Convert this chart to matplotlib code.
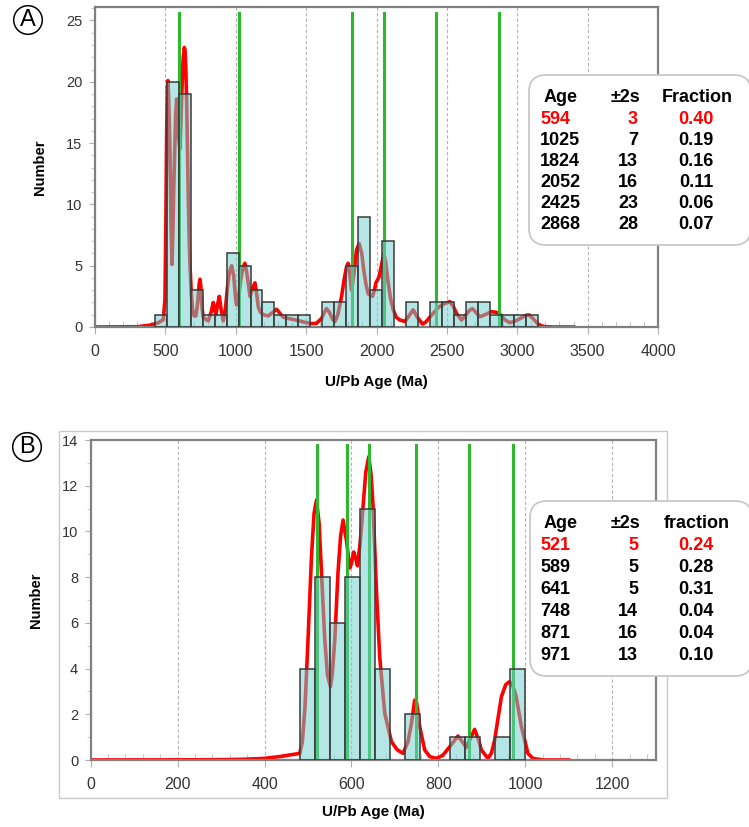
import matplotlib.pyplot as plt
from matplotlib.patches import FancyBboxPatch, Rectangle
from matplotlib.ticker import MultipleLocator

plt.rcParams['font.family'] = ['Liberation Sans', 'DejaVu Sans']

# ---- panel A data ----
bin_a_start = 425
bin_a_width = 85
counts_a = [1, 20, 19, 3, 1, 1, 6, 5, 3, 2, 1, 1, 1, 0, 2, 2, 5, 9, 3, 7,
            0, 2, 0, 2, 2, 1, 2, 2, 1, 1, 1, 1]

curve_a_age = [0, 300, 390, 450, 485, 497, 503, 509, 514, 518, 524, 533, 540, 547,
               553, 560, 566, 573, 580, 587, 594, 603, 610, 618, 626, 634, 640, 645,
               651, 657, 663, 669, 675, 685, 694, 705, 717, 730, 740, 746, 752, 760,
               769, 790, 805, 825, 840, 850, 859, 872, 883, 895, 911, 925, 940, 955,
               971, 985, 1000, 1006, 1020, 1035, 1050, 1065, 1080, 1101, 1118, 1136,
               1150, 1160, 1175, 1195, 1230, 1265, 1290, 1315, 1337, 1370, 1408, 1450,
               1503, 1540, 1574, 1610, 1630, 1645, 1665, 1690, 1705, 1725, 1752, 1772,
               1787, 1799, 1810, 1823, 1840, 1858, 1877, 1895, 1910, 1925, 1941, 1972,
               1985, 1996, 2019, 2035, 2052, 2065, 2083, 2100, 2119, 2140, 2166, 2202,
               2230, 2261, 2290, 2327, 2350, 2379, 2410, 2440, 2462, 2490, 2521, 2545,
               2569, 2604, 2630, 2660, 2682, 2710, 2734, 2770, 2817, 2850, 2876, 2910,
               2947, 2990, 3030, 3060, 3085, 3115, 3148, 3175, 3196, 3250, 3400]
curve_a_val = [0, 0.02, 0.15, 0.35, 0.6, 2.2, 8, 15.8, 19.5, 20.1, 18.5, 14.2, 8.5, 5.1,
               7.5, 11.5, 14.2, 17.2, 18.6, 17.5, 15.5, 14.5, 16.5, 19.5, 21.8, 22.8, 22.6, 21.2,
               18.5, 14.5, 10.4, 7.2, 5.0, 2.6, 1.3, 0.9, 0.9, 2.0, 3.5, 3.9, 3.3, 1.6,
               0.8, 0.6, 0.5, 1.2, 2.0, 1.4, 1.0, 1.9, 2.5, 1.5, 0.5, 1.3, 3.1, 4.5,
               5.0, 4.2, 2.2, 1.8, 2.4, 3.8, 4.8, 5.2, 4.3, 2.5, 3.1, 3.6,
               2.6, 1.65, 1.2, 1.0, 0.9, 1.2, 1.45, 1.1, 0.8, 0.7, 0.62, 0.5,
               0.35, 0.28, 0.3, 0.7, 1.2, 1.5, 1.2, 0.6, 0.45, 1.0, 2.5, 4.0,
               4.9, 5.2, 4.3, 3.0, 4.4, 6.3, 6.8, 6.0, 4.6, 3.5, 2.7, 2.5,
               3.0, 3.6, 4.1, 5.0, 6.0, 5.3, 3.6, 2.3, 1.4, 0.8, 0.57, 0.45,
               0.9, 1.4, 0.8, 0.24, 0.4, 0.8, 1.2, 1.6, 1.75, 1.95, 2.06, 1.7,
               1.1, 0.57, 0.9, 1.35, 1.5, 1.15, 0.84, 1.0, 1.25, 1.2, 1.06, 0.6,
               0.35, 0.5, 0.75, 0.95, 0.98, 0.65, 0.24, 0.08, 0.03, 0.0, 0.0]

peaks_a = ['594', '1025', '1824', '2052', '2425', '2868']
err_a = ['3', '7', '13', '16', '23', '28']
frac_a = ['0.40', '0.19', '0.16', '0.11', '0.06', '0.07']

# ---- panel B data ----
bin_b_start = 482
bin_b_width = 34.5
counts_b = [4, 8, 6, 8, 11, 4, 0, 2, 0, 0, 1, 1, 0, 1, 4]

curve_b_age = [0, 280, 350, 400, 435, 481, 487, 493, 500, 508, 514, 519.5, 525.6, 531,
               538.6, 545, 551.7, 556, 561.6, 569, 575, 580.7, 588.5, 596, 600, 605,
               610, 613.8, 620, 626.7, 633, 639.8, 645, 649.7, 657.5, 665, 676.6, 692,
               705, 718.6, 730, 738, 745.5, 750, 757, 768.5, 780, 795, 810, 826, 845,
               855, 864, 875, 883.4, 892, 899, 914, 922, 929.4, 937, 945, 955, 964,
               972, 979, 991, 1006, 1017.5, 1040, 1100]
curve_b_val = [0, 0.01, 0.03, 0.07, 0.15, 0.29, 0.8, 2.3, 5.25, 8.9, 10.8, 11.37, 10.35, 8.2,
               5.25, 3.7, 3.2, 3.8, 5.25, 8.2, 9.8, 10.5, 9.6, 8.4, 8.6, 9.1,
               8.8, 8.5, 9.5, 11.1, 12.6, 13.27, 12.5, 11.1, 7.4, 4.5, 2.04, 0.8,
               0.45, 0.29, 0.8, 1.6, 2.62, 2.5, 1.46, 0.44, 0.15, 0.07, 0.2, 0.58, 1.05,
               0.8, 0.55, 1.0, 1.34, 0.9, 0.44, 0.07, 0.3, 0.87, 1.8, 2.77, 3.3, 3.43,
               3.2, 2.77, 1.46, 0.29, 0.07, 0.0, 0.0]

peaks_b = ['521', '589', '641', '748', '871', '971']
err_b = ['5', '5', '5', '14', '16', '13']
frac_b = ['0.24', '0.28', '0.31', '0.04', '0.04', '0.10']

W, H = 749, 827
fig = plt.figure(figsize=(W / 100, H / 100), dpi=100)
inch = fig.dpi_scale_trans


def px(x, y):
    # pixel position (from top-left) -> inches for dpi_scale_trans
    return x / 100, (H - y) / 100


def draw_panel(ax, start, width, counts, c_age, c_val, peaks, xmax, ymax, xstep, ystep, gtop):
    lefts = [start + i * width for i in range(len(counts)) if counts[i] > 0]
    heights = [c for c in counts if c > 0]
    ax.plot(c_age, c_val, color='#ff0000', lw=2.6, zorder=2, solid_joinstyle='round')
    for p in peaks:
        ax.plot([float(p), float(p)], [0, gtop], color='#2eb82e', lw=2.2, zorder=3)
    ax.bar(lefts, heights, width=width, align='edge', color=(0.44, 0.81, 0.81, 0.52),
           edgecolor='#3a3a3a', lw=1.1, zorder=4)
    ax.set_xlim(0, xmax)
    ax.set_ylim(0, ymax)
    ax.xaxis.set_major_locator(MultipleLocator(xstep))
    ax.xaxis.set_minor_locator(MultipleLocator(xstep / 5))
    ax.yaxis.set_major_locator(MultipleLocator(ystep))
    ax.yaxis.set_minor_locator(MultipleLocator(1))
    ax.grid(axis='x', which='major', color='#b4b4b4', ls=(0, (3, 2)), lw=0.8, zorder=0)
    for s in ax.spines.values():
        s.set_color('#808080')
        s.set_linewidth(1.6)
    ax.tick_params(axis='x', which='major', direction='out', length=5, color='#b0b0b0',
                   labelsize=11.5, labelcolor='#333333', pad=7)
    ax.tick_params(axis='x', which='minor', direction='in', length=4, color='#c0c0c0')
    ax.tick_params(axis='y', which='major', direction='out', length=4, color='#b0b0b0',
                   labelsize=10.5, labelcolor='#333333', pad=5)
    ax.tick_params(axis='y', which='minor', direction='out', length=3, color='#c0c0c0')
    ax.set_xlabel('U/Pb Age (Ma)', fontsize=11, fontweight='bold')
    ax.set_ylabel('Number', fontsize=10.5, fontweight='bold')


def draw_table(x0, y0, x1, y1, head_y, first_y, step, peaks, errs, fracs, frac_title):
    box = FancyBboxPatch(px(x0, y1), (x1 - x0) / 100, (y1 - y0) / 100,
                         boxstyle='round,pad=0,rounding_size=0.17', transform=inch,
                         fc='white', ec='#c4c4c4', lw=1.2, zorder=10)
    fig.patches.append(box)
    kw = dict(transform=inch, fontsize=13, fontweight='bold', va='center', zorder=11)
    fig.text(*px(544, head_y), 'Age', ha='left', **kw)
    fig.text(*px(640, head_y), '±2s', ha='right', **kw)
    fig.text(*px(697, head_y), frac_title, ha='center', **kw)
    for i in range(len(peaks)):
        col = '#ff0000' if i == 0 else 'black'
        y = first_y + i * step
        fig.text(*px(540, y), peaks[i], ha='left', color=col, **kw)
        fig.text(*px(638, y), errs[i], ha='right', color=col, **kw)
        fig.text(*px(696, y), fracs[i], ha='center', color=col, **kw)


# panel B outer frame
frame = Rectangle(px(59, 798), (667 - 59) / 100, (798 - 431) / 100, transform=inch,
                  fill=False, ec='#c8c8c8', lw=1.0)
fig.patches.append(frame)

ax_a = fig.add_axes([95 / W, 1 - 327 / H, 563 / W, 320 / H])
draw_panel(ax_a, bin_a_start, bin_a_width, counts_a, curve_a_age, curve_a_val,
           peaks_a, 4000, 26.1, 500, 5, 25.6)
ax_a.xaxis.set_label_coords(0.5, -0.15)
ax_a.yaxis.set_label_coords(-0.085, 0.5)

ax_b = fig.add_axes([90.7 / W, 1 - 760 / H, 565 / W, 320 / H])
draw_panel(ax_b, bin_b_start, bin_b_width, counts_b, curve_b_age, curve_b_val,
           peaks_b, 1300, 14, 200, 2, 13.8)
ax_b.xaxis.set_label_coords(0.5, -0.14)
ax_b.yaxis.set_label_coords(-0.084, 0.5)

draw_table(529, 75, 751, 245, 97, 119.5, 21.0, peaks_a, err_a, frac_a, 'Fraction')
draw_table(530, 501, 752, 676, 524, 546, 21.8, peaks_b, err_b, frac_b, 'fraction')

# circled panel letters
for letter, (cx, cy) in [('A', (28, 20)), ('B', (27, 447))]:
    fig.text(*px(cx, cy), letter, transform=inch, fontsize=17, ha='center', va='center',
             bbox=dict(boxstyle='circle,pad=0.14', fc='white', ec='black', lw=1.1))

fig.savefig('out.png', dpi=100)
